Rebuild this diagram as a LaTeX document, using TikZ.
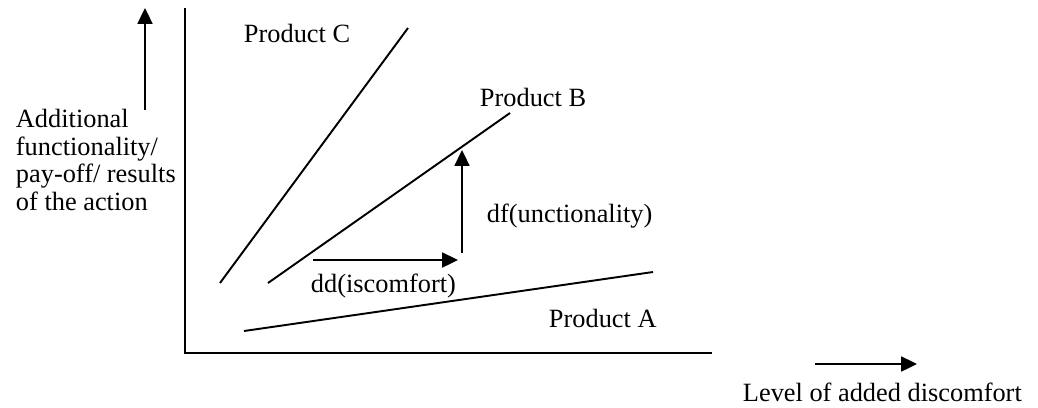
\documentclass[tikz,border=0pt]{standalone}
\usepackage{fontspec}
\setmainfont{Liberation Serif}
\usetikzlibrary{arrows.meta}

\begin{document}
\begin{tikzpicture}[x=0.02cm,y=-0.02cm,line width=1.1pt,
  every node/.style={inner sep=0pt,anchor=base west,font=\fontsize{15}{15.6}\selectfont},
  tip/.style={-{Triangle[length=9pt,width=8.5pt]}}]
\useasboundingbox (0,0) rectangle (1038,407);
% axes
\coordinate (O) at (185,353);
\draw[line width=1.3pt] (185,8)--(O)--(712,353);
% products
\coordinate (C1) at (220,283); \coordinate (C2) at (408,28);
\coordinate (B1) at (268,283); \coordinate (B2) at (510,113);
\coordinate (A1) at (244,331); \coordinate (A2) at (653,272);
\draw (C1)--(C2);
\draw (B1)--(B2);
\draw (A1)--(A2);
\node (prodC) at (243,42) {Product C};
\node (prodB) at (479,106) {Product B};
\node (prodA) at (548,327) {Product A};
% differences
\coordinate (D1) at (313,260); \coordinate (D2) at (458,260);
\coordinate (F1) at (462,253); \coordinate (F2) at (462,150);
\draw[tip] (D1)--(D2);
\draw[tip] (F1)--(F2);
\node (dd) at (310,292) {dd(iscomfort)};
\node (df) at (486,222) {df(unctionality)};
% axis labels
\coordinate (Y1) at (145,110); \coordinate (Y2) at (145,8);
\draw[tip] (Y1)--(Y2);
\node[align=left] (ylab) at (15,210) {Additional\\functionality/\\pay-off/ results\\of the action};
\coordinate (X1) at (815,364); \coordinate (X2) at (917,364);
\draw[tip] (X1)--(X2);
\node (xlab) at (742,401) {Level of added discomfort};
\end{tikzpicture}
\end{document}
